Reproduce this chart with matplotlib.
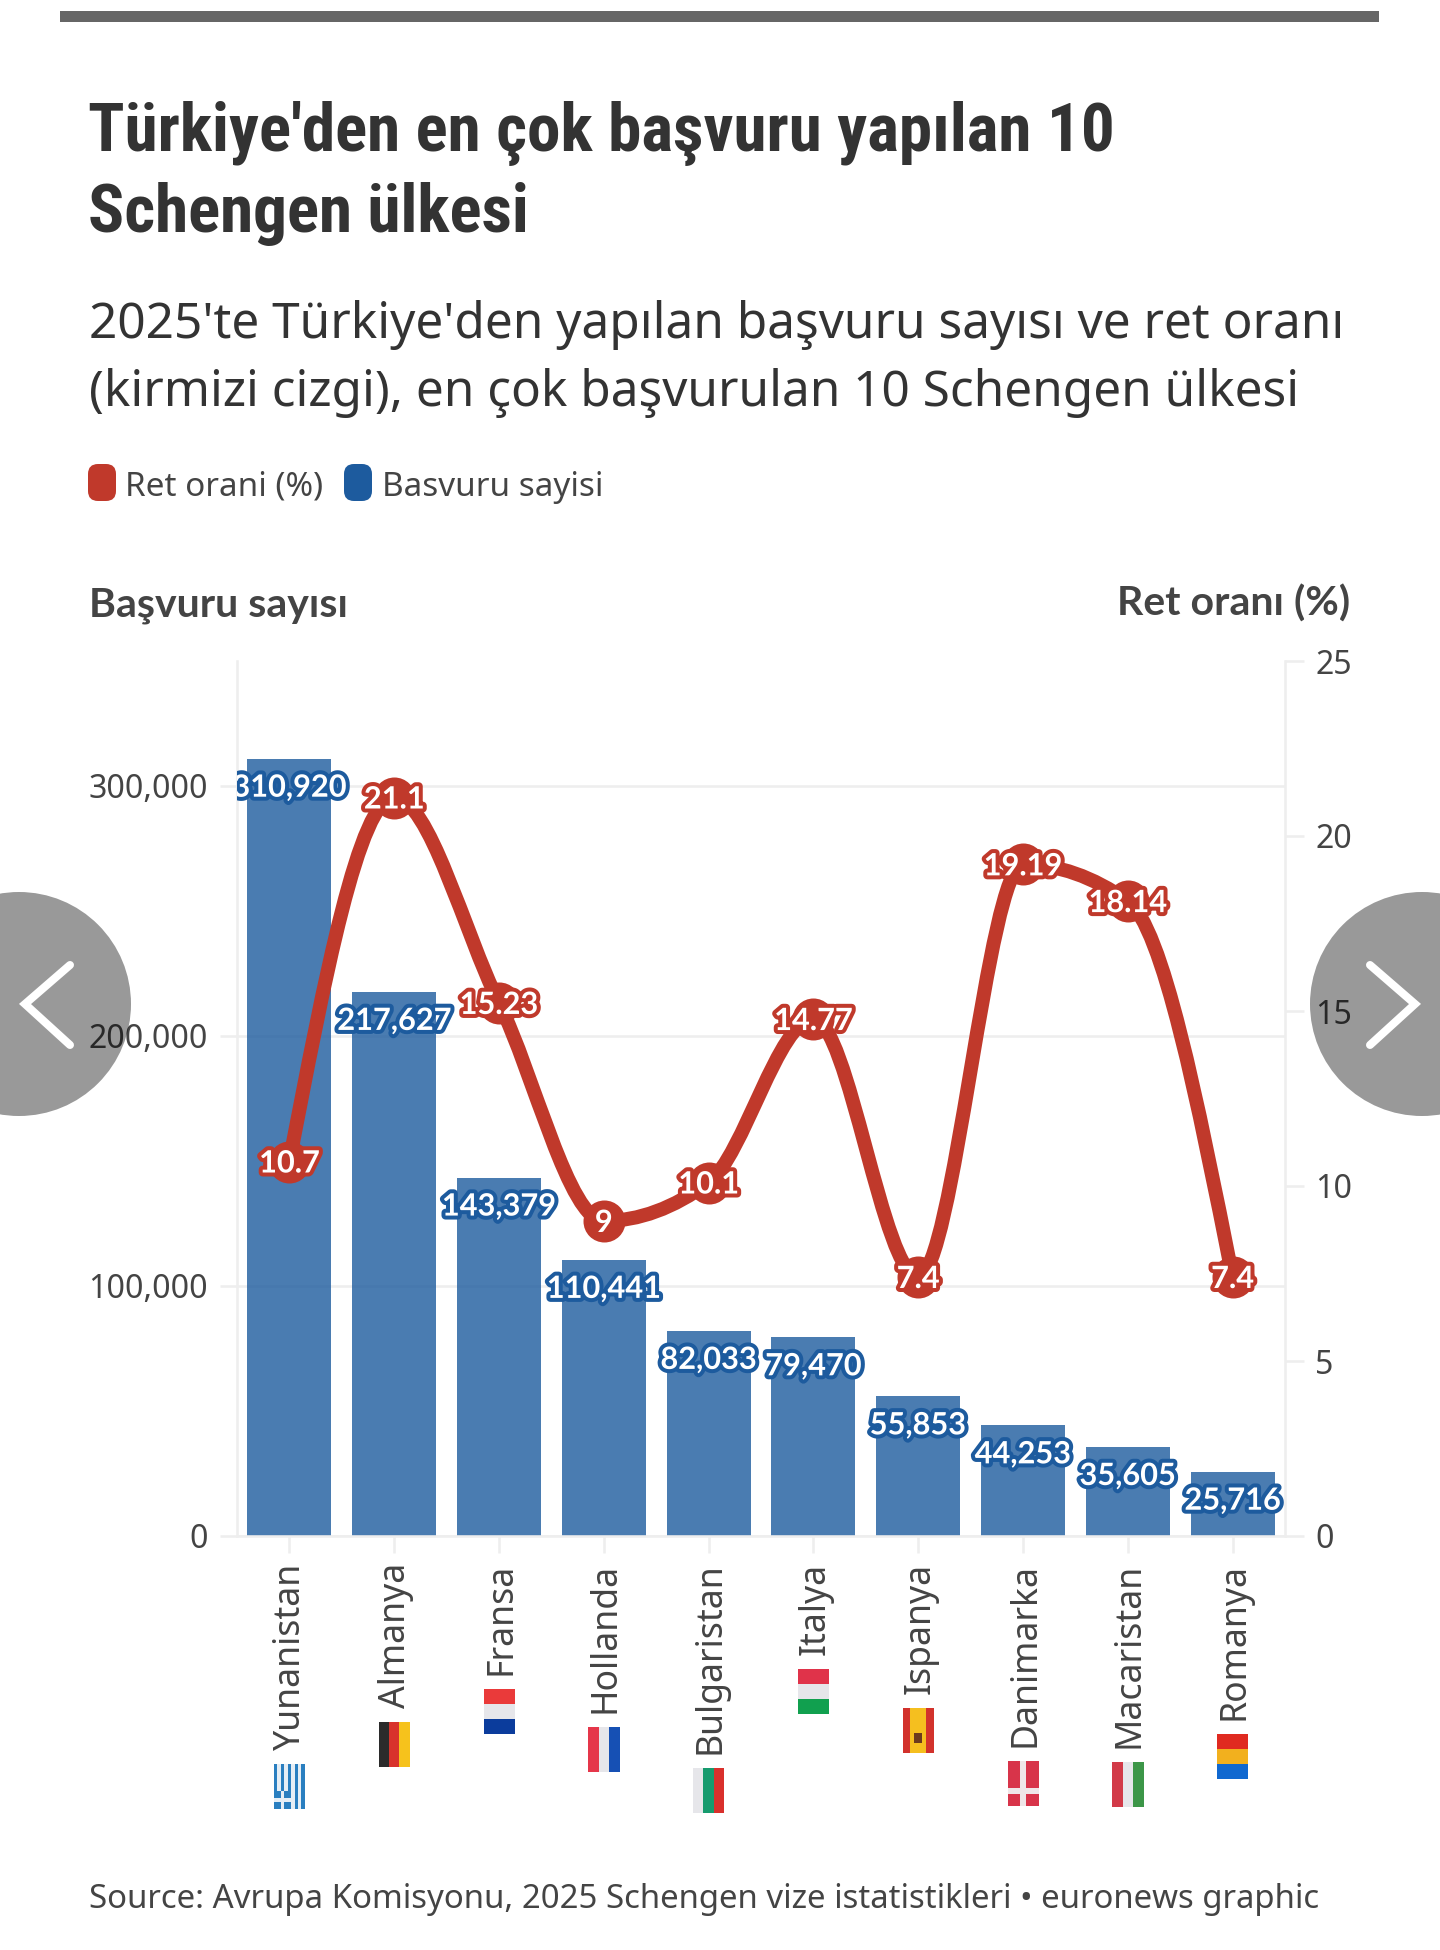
import matplotlib
matplotlib.use("Agg")
import matplotlib.pyplot as plt
import matplotlib.patheffects as pe
import numpy as np
from matplotlib.patches import Circle, FancyBboxPatch, PathPatch, Rectangle
from matplotlib.path import Path
from matplotlib.transforms import ScaledTranslation

paises = ["Yunanistan", "Almanya", "Fransa", "Hollanda", "Bulgaristan",
          "Italya", "Ispanya", "Danimarka", "Macaristan", "Romanya"]
basvuru = [310920, 217627, 143379, 110441, 82033, 79470, 55853, 44253, 35605, 25716]
ret = [10.7, 21.1, 15.23, 9, 10.1, 14.77, 7.4, 19.19, 18.14, 7.4]
ret_etiket = ["10.7", "21.1", "15.23", "9", "10.1", "14.77", "7.4", "19.19", "18.14", "7.4"]
ticks_izq = [0, 100000, 200000, 300000]
ticks_der = [0, 5, 10, 15, 20, 25]

# stripes as the rotated emoji shows them: "x" left to right, "y" bottom to top
banderas = [
    None,
    ("x", ["#2b2b2b", "#d8332c", "#f6c21c"]),
    ("y", ["#0b3c9c", "#e6e6ea", "#ea3a3a"]),
    ("x", ["#e5364a", "#e6e6ea", "#1650b4"]),
    ("x", ["#e6e6ea", "#169b6e", "#d9302c"]),
    ("y", ["#11a04f", "#e6e6ea", "#e0334a"]),
    ("x", ["#d2322c", "#f5bf1f", "#f5bf1f", "#d2322c"]),
    None,
    ("x", ["#d23a48", "#e6e6ea", "#3c9648"]),
    ("y", ["#1068d0", "#f2b01e", "#e02a20"]),
]

ROJO = "#c0392b"
AZUL = "#1d5b9e"
GRIS = "#444444"
LINEA = "#eeeeee"
FUENTE_TITULO = ["Roboto Condensed", "Liberation Sans Narrow", "Roboto"]
TEXTO = ["Noto Sans", "DejaVu Sans"]
NEGRITA = ["Lato", "DejaVu Sans"]  # Noto Sans comes out without a bold cut here
px = 0.72  # one pixel in points at dpi 100

plt.rcParams["font.family"] = TEXTO

fig = plt.figure(figsize=(14.4, 19.5), dpi=100, facecolor="white")
renderer = fig.canvas.get_renderer()


def tam(texto, ancho, **kw):
    t = fig.text(0, 0, texto, fontsize=20, **kw)
    w = t.get_window_extent(renderer).width
    t.remove()
    return 20 * ancho / w


def curva_monotona(x, y):
    # same idea as d3 curveMonotoneX, gives the control points of each segment
    x = np.array(x, dtype=float)
    y = np.array(y, dtype=float)
    h = np.diff(x)
    s = np.diff(y) / h
    t = np.zeros(len(x))
    for i in range(1, len(x) - 1):
        p = (s[i - 1] * h[i] + s[i] * h[i - 1]) / (h[i - 1] + h[i])
        t[i] = (np.sign(s[i - 1]) + np.sign(s[i])) * min(abs(s[i - 1]), abs(s[i]), 0.5 * abs(p))
    t[0] = (3 * s[0] - t[1]) / 2
    t[-1] = (3 * s[-1] - t[-2]) / 2
    verts = [(x[0], y[0])]
    codes = [Path.MOVETO]
    for i in range(len(x) - 1):
        d = h[i] / 3
        verts += [(x[i] + d, y[i] + d * t[i]), (x[i + 1] - d, y[i + 1] - d * t[i + 1]), (x[i + 1], y[i + 1])]
        codes += [Path.CURVE4] * 3
    return Path(verts, codes)


# chart area
ax = fig.add_axes([237 / 1440, (1950 - 1536) / 1950, 1048 / 1440, 875 / 1950])
ax.set_zorder(1)
x = np.arange(len(paises))
ax.bar(x, basvuru, width=0.8, color=AZUL, alpha=0.8, zorder=2)
ax.set_xlim(-0.5, 9.5)
ax.set_ylim(0, 350000)
ax.set_axisbelow(True)
ax.grid(axis="y", color=LINEA, linewidth=2.6 * px)
ax.set_yticks(ticks_izq)
ax.set_yticklabels([f"{v:,}" for v in ticks_izq], color=GRIS, fontsize=tam("300,000", 119))
ax.tick_params(axis="y", length=17.5 * px, width=2.6 * px, color=LINEA, pad=8.5)
ax.set_xticks(x)
ax.set_xticklabels(paises, rotation=90, color=GRIS, fontsize=tam("Yunanistan", 187))
ax.tick_params(axis="x", length=17 * px, width=2.6 * px, color=LINEA, pad=7)
for lab in ax.get_xticklabels():
    lab.set_transform(lab.get_transform() + ScaledTranslation(2 / 100, 0, fig.dpi_scale_trans))
for lado in ax.spines:
    ax.spines[lado].set_color(LINEA)
    ax.spines[lado].set_linewidth(2.6 * px)
ax.spines["top"].set_visible(False)

ax2 = ax.twinx()
ax2.set_zorder(2)
ax2.set_ylim(0, 25)
ax2.set_yticks(ticks_der)
ax2.set_yticklabels([str(v) for v in ticks_der], color=GRIS, fontsize=tam("300,000", 119))
ax2.tick_params(axis="y", length=19 * px, width=2.6 * px, color=LINEA, pad=8)
for lado in ax2.spines:
    ax2.spines[lado].set_visible(False)
ax2.patch.set_visible(False)

ax2.add_patch(PathPatch(curva_monotona(x, ret), fill=False, edgecolor=ROJO,
                        linewidth=14 * px, capstyle="round", zorder=3))
ax2.plot(x, ret, "o", color=ROJO, markersize=42 * px, markeredgewidth=0, zorder=4)

tam_etiqueta = tam("143,379", 114, family=NEGRITA, fontweight="bold")
for i, v in enumerate(basvuru):
    t = ax2.annotate(f"{v:,}", xy=(i, v), xycoords=ax.transData, xytext=(0, -29 * px),
                     textcoords="offset points", ha="center", va="center", color="white",
                     family=NEGRITA, fontweight="bold", fontsize=tam_etiqueta, zorder=5)
    t.set_path_effects([pe.withStroke(linewidth=8 * px, foreground=AZUL)])
    t.set_clip_box(ax2.bbox)
    t.set_clip_on(True)
for i, v in enumerate(ret):
    t = ax2.annotate(ret_etiket[i], xy=(i, v), xytext=(0, -2 * px), textcoords="offset points",
                     ha="center", va="center", color="white",
                     family=NEGRITA, fontweight="bold", fontsize=tam_etiqueta, zorder=6)
    t.set_path_effects([pe.withStroke(linewidth=8 * px, foreground=ROJO)])

# everything else goes on a layer measured in pixels of the picture
capa = fig.add_axes([0, 0, 1, 1])
capa.set_zorder(10)
capa.set_xlim(0, 1440)
capa.set_ylim(1950, 0)
capa.axis("off")

capa.add_patch(Rectangle((60, 11), 1319, 11, color="#666666", linewidth=0))

tam_titulo = tam("Türkiye'den en çok başvuru yapılan 10", 1026, family=FUENTE_TITULO, fontweight="bold")
for y, linea in [(151, "Türkiye'den en çok başvuru yapılan 10"), (232, "Schengen ülkesi")]:
    capa.text(88, y, linea, family=FUENTE_TITULO, fontweight="bold", color="#333333", va="baseline", fontsize=tam_titulo)
tam_sub = tam("2025'te Türkiye'den yapılan başvuru sayısı ve ret oranı", 1255)
capa.text(89, 338, "2025'te Türkiye'den yapılan başvuru sayısı ve ret oranı", color="#333333", va="baseline", fontsize=tam_sub)
capa.text(89, 406, "(kirmizi cizgi), en çok başvurulan 10 Schengen ülkesi", color="#333333", va="baseline", fontsize=tam_sub)

tam_ley = tam("Ret orani (%)", 198)
for x0, color, x_t, texto in [(88, ROJO, 125, "Ret orani (%)"), (344, AZUL, 382, "Basvuru sayisi")]:
    capa.add_patch(FancyBboxPatch((x0 + 9, 473), 10, 19, boxstyle="round,pad=9,rounding_size=10", color=color, linewidth=0))
    capa.text(x_t, 496, texto, color=GRIS, va="baseline", fontsize=tam_ley)

tam_eje = tam("Başvuru sayısı", 258, family=NEGRITA, fontweight="bold")
capa.text(89, 616, "Başvuru sayısı", color=GRIS, family=NEGRITA, fontweight="bold", va="baseline", fontsize=tam_eje)
capa.text(1350, 616, "Ret oranı (%)", color=GRIS, family=NEGRITA, fontweight="bold", va="baseline", ha="right", fontsize=tam_eje)

capa.text(89, 1908, "Source: Avrupa Komisyonu, 2025 Schengen vize istatistikleri • euronews graphic",
          color=GRIS, va="baseline", fontsize=tam("Source: Avrupa Komisyonu, 2025 Schengen vize istatistikleri • euronews graphic", 1233))

# flags sit after the end of each rotated label
W, H = 31, 45
fig.canvas.draw()
for i, lab in enumerate(ax.get_xticklabels()):
    centro = ax.transData.transform((i, 0))[0]
    arriba = 1950 - lab.get_window_extent(renderer).y0 + 14
    izq = centro - W / 2
    if banderas[i] is not None:
        eje, franjas = banderas[i]
        for k, c in enumerate(franjas):
            if eje == "x":
                capa.add_patch(Rectangle((izq + k * W / len(franjas), arriba), W / len(franjas) + 0.3, H, color=c, linewidth=0))
            else:
                capa.add_patch(Rectangle((izq, arriba + H - (k + 1) * H / len(franjas)), W, H / len(franjas) + 0.3, color=c, linewidth=0))
    if paises[i] == "Yunanistan":
        for k in range(9):
            c = "#2a7fc0" if k % 2 == 0 else "#e6eef5"
            capa.add_patch(Rectangle((izq + k * W / 9, arriba), W / 9 + 0.3, H, color=c, linewidth=0))
        capa.add_patch(Rectangle((izq, arriba + H - 18), W * 5 / 9, 18, color="#2a7fc0", linewidth=0))
        capa.add_patch(Rectangle((izq, arriba + H - 11), W * 5 / 9, 4, color="#e6eef5", linewidth=0))
        capa.add_patch(Rectangle((izq + W * 2 / 9, arriba + H - 18), W / 9, 18, color="#e6eef5", linewidth=0))
    if paises[i] == "Danimarka":
        capa.add_patch(Rectangle((izq, arriba), W, H, color="#d8344a", linewidth=0))
        capa.add_patch(Rectangle((izq, arriba + H * 0.6), W, 6, color="#efe6e8", linewidth=0))
        capa.add_patch(Rectangle((izq + W / 2 - 3, arriba), 6, H, color="#efe6e8", linewidth=0))
    if paises[i] == "Ispanya":
        capa.add_patch(Rectangle((izq + W / 2 - 4, arriba + H * 0.55), 8, 10, color="#6b3a1e", linewidth=0))

# carousel arrows of the page, over the chart
for cx, flecha in [(19, [(70, 965), (25, 1004), (70, 1045)]),
                   (1422, [(1370, 965), (1415, 1004), (1370, 1045)])]:
    capa.add_patch(Circle((cx, 1004), 112, color="black", alpha=0.4, linewidth=0))
    xs, ys = zip(*flecha)
    capa.plot(xs, ys, color="white", linewidth=8 * px, solid_capstyle="round", solid_joinstyle="miter")

fig.savefig("out.png", dpi=100, facecolor="white")
